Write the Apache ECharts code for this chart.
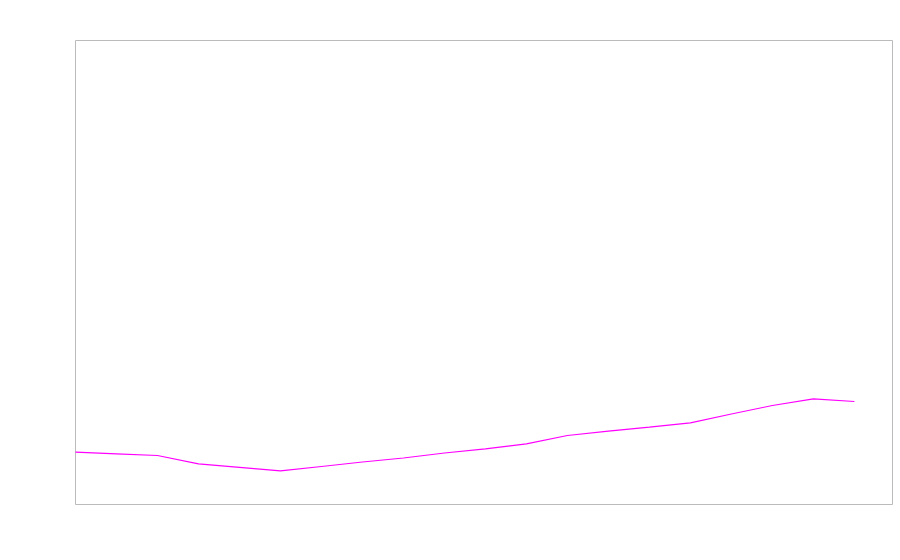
<!DOCTYPE html>
<html>
<head>
<meta charset="utf-8">
<script src="https://cdn.jsdelivr.net/npm/echarts@6/dist/echarts.min.js"></script>
<style>html,body{margin:0;padding:0;background:#fff}#c{width:900px;height:560px}</style>
</head>
<body>
<div id="c"></div>
<script>
const xIndex = [0,1,2,3,4,5,6,7,8,9,10,11,12,13,14,15,16,17,18,19];
const values = [11.27,10.93,10.56,8.77,8.02,7.26,8.19,9.16,10.02,11.1,12.0,13.08,14.87,15.8,16.66,17.6,19.5,21.34,22.78,22.2];

const chart = echarts.init(document.getElementById('c'), null, {renderer:'canvas'});
chart.setOption({
  animation: false,
  grid: {left: 75.5, top: 40.5, right: 7.5, bottom: 55.5, show: true, borderColor: '#bbb', borderWidth: 1, backgroundColor: 'transparent'},
  xAxis: {type: 'value', min: 0, max: 19.93, show: false},
  yAxis: {type: 'value', min: 0, max: 100, show: false},
  series: [{
    type: 'line',
    data: xIndex.map((x, i) => [x, values[i]]),
    showSymbol: false,
    lineStyle: {color: '#ff00ff', width: 1.2},
    itemStyle: {color: '#ff00ff'}
  }]
});
</script>
</body>
</html>
